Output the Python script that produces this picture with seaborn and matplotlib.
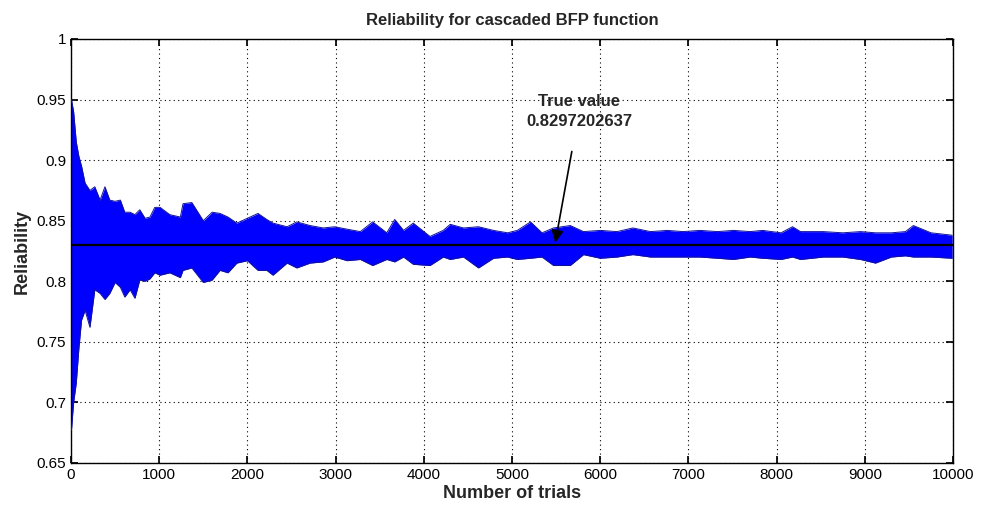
import numpy as np
import pandas as pd
import matplotlib
matplotlib.use('Agg')
import matplotlib.pyplot as plt
import seaborn as sns

# highest / lowest spikes of the running estimate
trials = [5, 30, 60, 90, 120, 160, 215, 270, 330, 385, 440, 500, 560, 610, 670,
          725, 780, 840, 895, 950, 1010, 1120, 1240, 1270, 1370, 1500, 1600, 1690,
          1780, 1880, 2000, 2120, 2220, 2290, 2450, 2560, 2710, 2860, 2990, 3130,
          3280, 3420, 3580, 3670, 3770, 3880, 4070, 4220, 4300, 4450, 4620, 4790,
          4950, 5060, 5210, 5340, 5470, 5660, 5810, 6000, 6190, 6370, 6570, 6760,
          6940, 7130, 7330, 7510, 7700, 7840, 8050, 8180, 8270, 8530, 8750, 8950,
          9120, 9300, 9460, 9550, 9750, 9990]
upper = [0.950, 0.940, 0.915, 0.903, 0.895, 0.881, 0.875, 0.878, 0.867, 0.878,
         0.867, 0.866, 0.867, 0.857, 0.857, 0.855, 0.859, 0.852, 0.853, 0.861,
         0.861, 0.855, 0.853, 0.864, 0.865, 0.850, 0.857, 0.856, 0.853, 0.848,
         0.852, 0.856, 0.851, 0.848, 0.845, 0.849, 0.846, 0.844, 0.845, 0.843,
         0.841, 0.849, 0.840, 0.851, 0.842, 0.848, 0.837, 0.842, 0.847, 0.844,
         0.845, 0.842, 0.840, 0.842, 0.849, 0.840, 0.844, 0.846, 0.841, 0.842,
         0.841, 0.844, 0.841, 0.842, 0.841, 0.842, 0.841, 0.842, 0.841, 0.842,
         0.840, 0.845, 0.841, 0.841, 0.840, 0.841, 0.840, 0.840, 0.841, 0.846,
         0.840, 0.838]
lower = [0.677, 0.700, 0.716, 0.745, 0.768, 0.776, 0.762, 0.793, 0.790, 0.785,
         0.790, 0.799, 0.795, 0.787, 0.793, 0.786, 0.801, 0.800, 0.802, 0.807,
         0.805, 0.807, 0.803, 0.809, 0.811, 0.799, 0.801, 0.809, 0.807, 0.815,
         0.817, 0.809, 0.809, 0.805, 0.815, 0.811, 0.815, 0.816, 0.820, 0.817,
         0.818, 0.813, 0.818, 0.816, 0.820, 0.814, 0.813, 0.820, 0.818, 0.820,
         0.811, 0.819, 0.820, 0.818, 0.819, 0.820, 0.813, 0.813, 0.822, 0.819,
         0.820, 0.822, 0.820, 0.820, 0.820, 0.820, 0.819, 0.818, 0.820, 0.819,
         0.818, 0.820, 0.818, 0.820, 0.820, 0.818, 0.815, 0.820, 0.821, 0.820,
         0.820, 0.819]

true_value = 0.8297202637
x_ticks = list(range(0, 10001, 1000))
y_ticks = [0.65, 0.7, 0.75, 0.8, 0.85, 0.9, 0.95, 1]

df = pd.DataFrame({'trials': trials, 'upper': upper, 'lower': lower})

sns.set_theme(style='ticks')
plt.rcParams['font.family'] = ['Liberation Sans', 'DejaVu Sans']

fig = plt.figure(figsize=(9.9, 5.15), dpi=100)
ax = fig.add_axes([0.0717, 0.101, 0.891, 0.8233])

ax.fill_between(df['trials'], df['lower'], df['upper'], color='#0000ff', linewidth=0, zorder=2)
sns.lineplot(data=df, x='trials', y='upper', color='#12129a', linewidth=0.7, ax=ax, zorder=3)
sns.lineplot(data=df, x='trials', y='lower', color='#12129a', linewidth=0.7, ax=ax, zorder=3)
ax.axhline(true_value, color='black', linewidth=1.6, zorder=4)

ax.annotate('True value\n0.8297202637', xy=(5490, 0.832), xytext=(5760, 0.94),
            ha='center', va='center', fontsize=12, fontweight='bold', linespacing=1.4,
            arrowprops=dict(arrowstyle='-|>', color='black', lw=1.2, mutation_scale=18,
                            shrinkA=14, shrinkB=0),
            zorder=5)

ax.set_xlim(0, 10000)
ax.set_ylim(0.65, 1)
ax.set_xticks(x_ticks)
ax.set_yticks(y_ticks)
ax.set_yticklabels([f'{v:g}' for v in y_ticks])
ax.grid(True, color='black', linestyle=(0, (1, 3)), linewidth=0.8)
ax.tick_params(direction='in', length=5, top=True, right=True, labelsize=11, colors='black')
for s in ax.spines.values():
    s.set_visible(True)
    s.set_color('black')
    s.set_linewidth(1)

ax.set_title('Reliability for cascaded BFP function', fontsize=12, fontweight='bold', pad=10)
ax.set_xlabel('Number of trials', fontsize=13, fontweight='bold', labelpad=2)
ax.set_ylabel('Reliability', fontsize=13, fontweight='bold', labelpad=4)

fig.savefig('out.png', dpi=100)
